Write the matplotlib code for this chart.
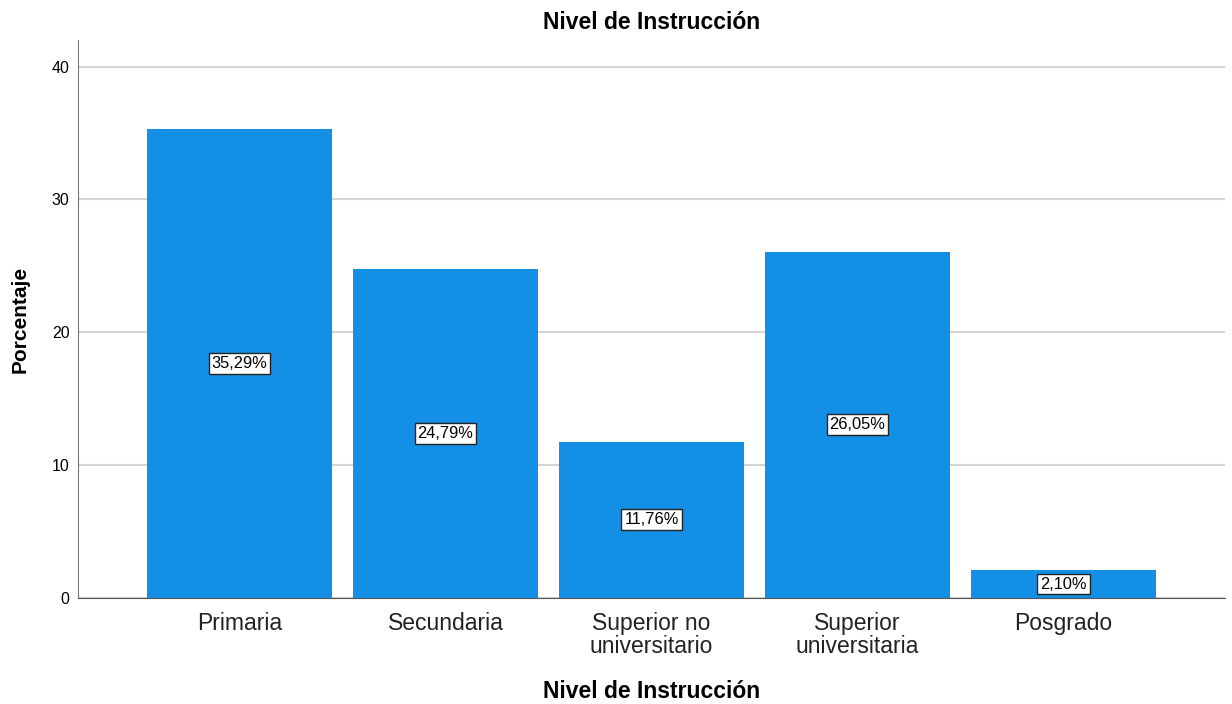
import matplotlib
matplotlib.use("Agg")
import matplotlib.pyplot as plt

categories = ["Primaria", "Secundaria", "Superior no\nuniversitario", "Superior\nuniversitaria", "Posgrado"]
percentages = [35.29, 24.79, 11.76, 26.05, 2.10]
y_ticks = [0, 10, 20, 30, 40]

BAR_COLOR = "#1390e6"

plt.rcParams["font.family"] = ["Liberation Sans", "DejaVu Sans"]


def plot_nivel(path):
    fig = plt.figure(figsize=(12.32, 7.04), dpi=100)
    ax = fig.add_axes([0.0633, 0.1506, 0.931, 0.7926])

    x = list(range(len(categories)))
    ax.bar(x, percentages, width=0.9, color=BAR_COLOR, zorder=2)

    for xi, v in zip(x, percentages):
        label = f"{v:.2f}%".replace(".", ",")
        ax.text(xi, v / 2, label, ha="center", va="center", fontsize=11.8, zorder=3,
                bbox=dict(boxstyle="square,pad=0.18", fc="white", ec="#222222", lw=1))

    ax.set_xlim(-0.784, 4.784)
    ax.set_ylim(0, 42)
    ax.set_yticks(y_ticks)
    ax.set_xticks(x)
    ax.set_xticklabels(categories, fontsize=16.5, color="#222222", linespacing=1.0)
    ax.tick_params(axis="y", labelsize=11.5, length=0, pad=6)
    ax.tick_params(axis="x", length=0, pad=10)

    ax.grid(axis="y", color="#d4d4d4", lw=1.5, zorder=0)
    for s in ["top", "right"]:
        ax.spines[s].set_visible(False)
    ax.spines["left"].set_color("#777777")
    ax.spines["bottom"].set_color("#555555")

    ax.set_title("Nivel de Instrucción", fontsize=16.5, fontweight="bold", pad=8)
    ax.set_xlabel("Nivel de Instrucción", fontsize=16.5, fontweight="bold", labelpad=16)
    ax.set_ylabel("Porcentaje", fontsize=15, fontweight="bold", labelpad=16)

    plt.savefig(path)
    plt.close()


def main():
    plot_nivel("out.png")


if __name__ == "__main__":
    main()
